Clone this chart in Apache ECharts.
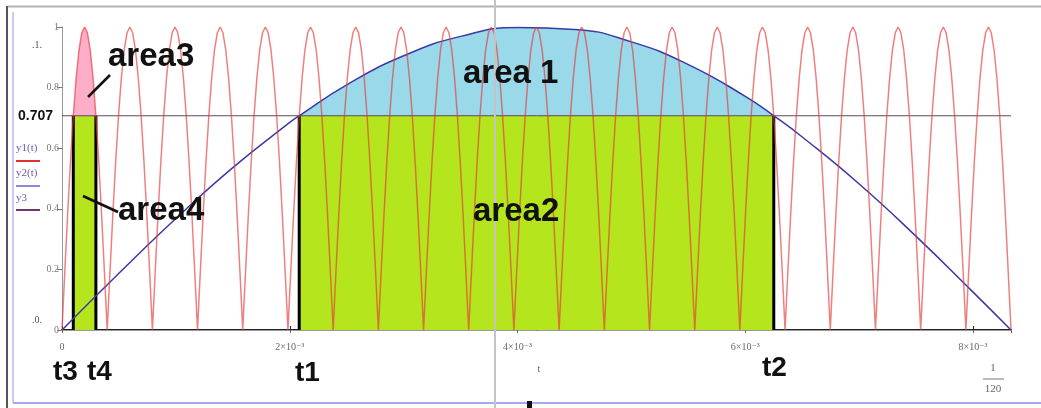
<!DOCTYPE html>
<html><head><meta charset="utf-8">
<script src="https://cdn.jsdelivr.net/npm/echarts@6/dist/echarts.min.js"></script>
<style>html,body{margin:0;padding:0;background:#fff}#c{width:1041px;height:408px}</style>
</head><body><div id="c"></div>
<script>
// Plot span: half a period of the 60 Hz wave
const tEnd = 0.008333;

// Axis ticks and their labels
const xTickValues = [0, 0.002, 0.004, 0.006, 0.008];
const xTickLabels = ['0', '2×10⁻³', '4×10⁻³', '6×10⁻³', '8×10⁻³'];
const yTickValues = [0, 0.2, 0.4, 0.6, 0.8, 1];
const yTickLabels = ['0', '0.2', '0.4', '0.6', '0.8', '1'];

// y2(t): the slow wave
const y2Times  = [0, 0.0005, 0.001, 0.0015, 0.002, 0.002083, 0.0025, 0.003, 0.0035, 0.004, 0.0045, 0.005, 0.0055, 0.006, 0.00625, 0.0065, 0.007, 0.0075, 0.008, 0.008333];
const y2Values = [0, 0.187, 0.368, 0.536, 0.685, 0.707, 0.809, 0.905, 0.969, 0.998, 0.992, 0.951, 0.876, 0.771, 0.707, 0.637, 0.482, 0.309, 0.125, 0];

// y1(t): the fast rectified wave, one hump between each pair of zero touches
const y1Zeros = [0, 0.000397, 0.000794, 0.001190, 0.001587, 0.001984, 0.002381, 0.002778, 0.003175, 0.003571, 0.003968, 0.004365, 0.004762, 0.005159, 0.005556, 0.005952, 0.006349, 0.006746, 0.007143, 0.007540, 0.007937, 0.008333];
// height of a hump at 17 evenly spaced points across it
const y1HumpShape = [0, 0.195, 0.383, 0.556, 0.707, 0.831, 0.924, 0.981, 1, 0.981, 0.924, 0.831, 0.707, 0.556, 0.383, 0.195, 0];

// y3: the threshold level
const y3Level = 0.707;

// Marked instants
const t1 = 0.002083, t2 = 0.00625, t3 = 0.0000992, t4 = 0.0002976;

// ---- build point lists ----
const y2Points = y2Times.map((t, i) => [t, y2Values[i]]);
const y1Points = [];
const n = y1HumpShape.length - 1;
for (let k = 0; k < y1Zeros.length - 1; k++) {
  const a = y1Zeros[k], b = y1Zeros[k + 1];
  for (let j = (k === 0 ? 0 : 1); j <= n; j++) {
    y1Points.push([a + (b - a) * j / n, y1HumpShape[j]]);
  }
}
const within = (pts, lo, hi) => pts.filter(p => p[0] > lo + 1e-9 && p[0] < hi - 1e-9);
const area1Points = [[t1, y3Level], ...within(y2Points, t1, t2), [t2, y3Level]];
const area3Points = [[t3, y3Level], ...within(y1Points, t3, t4), [t4, y3Level]];

const SERIF = '"Liberation Serif","DejaVu Serif",serif';
const SANS = '"Liberation Sans",Arial,sans-serif';
const tickText = (vals, labels) => v => {
  const i = vals.findIndex(x => Math.abs(x - v) < 1e-9);
  return i >= 0 ? labels[i] : '';
};

const edgeSeries = [t3, t4, t1, t2].map(t => ({
  type: 'line', data: [[t, 0], [t, y3Level]], symbol: 'none', silent: true,
  lineStyle: { color: '#000', width: 3 }, z: 4
}));

const chart = echarts.init(document.getElementById('c'), null, { renderer: 'canvas' });

const bigLabel = (text, x, y, size) => ({
  type: 'text', x, y, z: 50,
  style: { text, fill: '#111', font: 'bold ' + size + 'px ' + SANS, verticalAlign: 'middle', align: 'left' }
});
const smallText = (text, x, y, opts) => ({
  type: 'text', x, y, z: 50,
  style: Object.assign({ text, fill: '#666', font: '10px ' + SERIF, verticalAlign: 'middle', align: 'center' }, opts || {})
});
const seg = (x1, y1, x2, y2, stroke, w, z) => ({
  type: 'line', z: z || 50, shape: { x1, y1, x2, y2 }, style: { stroke, lineWidth: w }
});

chart.setOption({
  animation: false,
  backgroundColor: '#fff',
  grid: { left: 62, top: 27, width: 949, height: 303 },
  xAxis: [{
    type: 'value', min: 0, max: tEnd, interval: 0.002, position: 'bottom',
    axisLine: { show: true, lineStyle: { color: '#222', width: 2 } },
    axisTick: { show: true, inside: true, length: 4, lineStyle: { color: '#222' } },
    axisLabel: { formatter: tickText(xTickValues, xTickLabels), color: '#666', fontFamily: SERIF, fontSize: 10, margin: 12, showMaxLabel: false },
    splitLine: { show: false }
  }, {
    type: 'value', min: 0, max: tEnd, interval: 0.002, position: 'top',
    axisLine: { show: true, lineStyle: { color: '#999', width: 1 } },
    axisTick: { show: true, inside: true, length: 3, lineStyle: { color: '#666' } },
    axisLabel: { show: false }, splitLine: { show: false }
  }],
  yAxis: [{
    type: 'value', min: 0, max: 1, interval: 0.2, position: 'left',
    axisLine: { show: true, lineStyle: { color: '#999', width: 1 } },
    axisTick: { show: true, inside: false, length: 5, lineStyle: { color: '#777' } },
    axisLabel: { formatter: tickText(yTickValues, yTickLabels), color: '#777', fontFamily: SERIF, fontSize: 10, margin: 3 },
    splitLine: { show: false }
  }, {
    type: 'value', min: 0, max: 1, interval: 0.2, position: 'right',
    axisLine: { show: true, lineStyle: { color: '#999', width: 1 } },
    axisTick: { show: true, inside: true, length: 4, lineStyle: { color: '#777' } },
    axisLabel: { show: false }, splitLine: { show: false }
  }],
  series: [
    { name: 'area1', type: 'line', data: area1Points, smooth: true, symbol: 'none', silent: true,
      lineStyle: { width: 0 }, areaStyle: { color: '#99d9ea', opacity: 1 }, z: 1 },
    { name: 'area3', type: 'line', data: area3Points, symbol: 'none', silent: true,
      lineStyle: { width: 0 }, areaStyle: { color: '#ffaec9', opacity: 1 }, z: 1 },
    { name: 'area2', type: 'line', data: [[t1, y3Level], [t2, y3Level]], symbol: 'none', silent: true,
      lineStyle: { width: 0 }, areaStyle: { color: '#b5e61d', opacity: 1 }, z: 2 },
    { name: 'area4', type: 'line', data: [[t3, y3Level], [t4, y3Level]], symbol: 'none', silent: true,
      lineStyle: { width: 0 }, areaStyle: { color: '#b5e61d', opacity: 1 }, z: 2 },
    ...edgeSeries,
    { name: 'y3', type: 'line', data: [[0, y3Level], [tEnd, y3Level]], symbol: 'none', silent: true,
      lineStyle: { color: '#5e4a5a', width: 1 }, z: 5 },
    { name: 'y2(t)', type: 'line', data: y2Points, smooth: true, symbol: 'none', silent: true,
      lineStyle: { color: '#3a3aa6', width: 1.5 }, z: 6 },
    { name: 'y1(t)', type: 'line', data: y1Points, symbol: 'none', silent: true,
      lineStyle: { color: '#e63a3a', width: 1.5, opacity: 0.65 }, z: 7 }
  ],
  graphic: [
    // worksheet frame and cursor
    seg(8, 6.5, 1041, 6.5, '#b4b4b4', 2, 1),
    seg(7, 6, 7, 408, '#555', 2, 1),
    seg(13, 12, 13, 403, '#b8b8f0', 1.5, 1),
    seg(13, 403, 1041, 403, '#a8a8f0', 2, 1),
    seg(495, 0, 495, 408, '#c4c4c4', 2, 40),
    { type: 'rect', z: 50, shape: { x: 527, y: 401, width: 5, height: 7 }, style: { fill: '#111' } },

    // y-axis extras
    smallText('.1.', 37, 45, { fill: '#555' }),
    smallText('.0.', 37, 320, { fill: '#555' }),
    { type: 'text', x: 18, y: 116, z: 50, style: { text: '0.707', fill: '#111', font: 'bold 14px ' + SANS, verticalAlign: 'middle', align: 'left' } },

    // trace legend
    smallText('y1(t)', 16, 148, { fill: '#6a5aa0', align: 'left', font: '11px ' + SERIF }),
    seg(16, 161, 40, 161, '#e03030', 2),
    smallText('y2(t)', 16, 173, { fill: '#6a5aa0', align: 'left', font: '11px ' + SERIF }),
    seg(16, 186, 40, 186, '#8888d8', 2),
    smallText('y3', 16, 198, { fill: '#6a5aa0', align: 'left', font: '11px ' + SERIF }),
    seg(16, 210, 40, 210, '#6a3a6a', 2),

    // x-axis title and range note
    smallText('t', 539, 369),
    smallText('1', 993, 368, { font: '11px ' + SERIF }),
    seg(983, 379, 1004, 379, '#777', 1),
    smallText('120', 993, 389, { font: '11px ' + SERIF }),

    // region labels and pointers
    bigLabel('area3', 108, 56.5, 33),
    seg(88, 97, 110, 75, '#111', 2.5),
    bigLabel('area4', 118, 210.5, 33),
    seg(83, 196, 118, 212, '#111', 2.5),
    bigLabel('area 1', 463, 73.5, 33),
    bigLabel('area2', 473, 211.5, 33),

    // instant labels
    bigLabel('t3', 53, 372, 28),
    bigLabel('t4', 87, 372, 28),
    bigLabel('t1', 295, 373, 28),
    bigLabel('t2', 762, 368, 28)
  ]
});
</script></body></html>
